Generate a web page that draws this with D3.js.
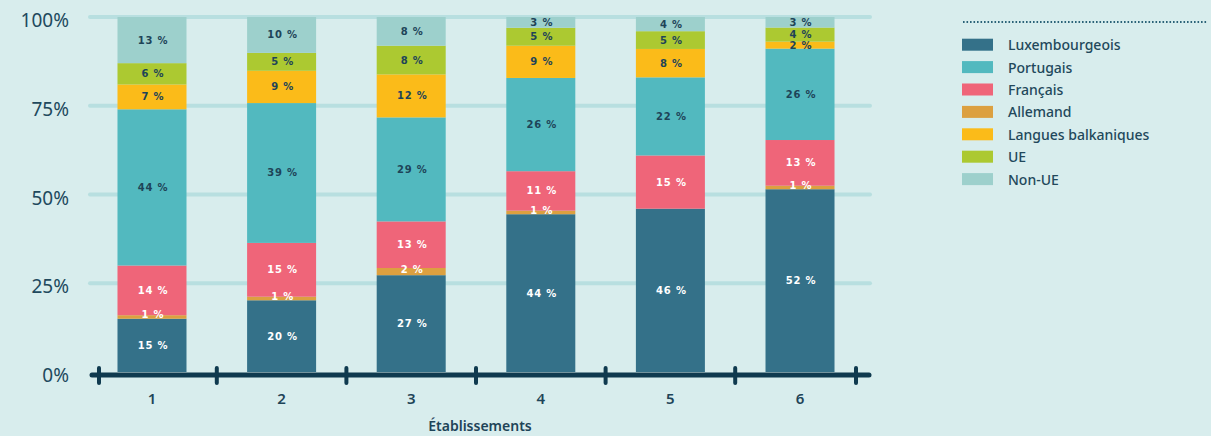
<!DOCTYPE html>
<html>
<head>
<meta charset="utf-8">
<script src="https://cdn.jsdelivr.net/npm/d3@7"></script>
<style>
  html, body { margin: 0; padding: 0; background: #d8eded; }
  svg { display: block; }
</style>
</head>
<body>
<div id="chart"></div>
<script>
// data
const etablissements = ["1", "2", "3", "4", "5", "6"];
const langues = ["Luxembourgeois", "Portugais", "Français", "Allemand", "Langues balkaniques", "UE", "Non-UE"];
// stacking order, bottom to top
const stackOrder = ["Luxembourgeois", "Allemand", "Français", "Portugais", "Langues balkaniques", "UE", "Non-UE"];
const luxembourgeois = [15, 20, 27, 44, 46, 52];
const portugais = [44, 39, 29, 26, 22, 26];
const francais = [14, 15, 13, 11, 15, 13];
const allemand = [1, 1, 2, 1, 0, 1];
const balkaniques = [7, 9, 12, 9, 8, 2];
const ue = [6, 5, 8, 5, 5, 4];
const nonUe = [13, 10, 8, 3, 4, 3];
const yTicks = [0, 25, 50, 75, 100];

const colors = {
  "Luxembourgeois": "#347189",
  "Portugais": "#52b9bf",
  "Français": "#ef6579",
  "Allemand": "#dca040",
  "Langues balkaniques": "#fbbb19",
  "UE": "#acc931",
  "Non-UE": "#9dd0cc"
};
const whiteText = ["Luxembourgeois", "Français", "Allemand"];
const dark = "#1e4458";

const rows = etablissements.map((e, i) => ({
  etab: e,
  "Luxembourgeois": luxembourgeois[i],
  "Portugais": portugais[i],
  "Français": francais[i],
  "Allemand": allemand[i],
  "Langues balkaniques": balkaniques[i],
  "UE": ue[i],
  "Non-UE": nonUe[i]
}));

const width = 1211, height = 436;
const svg = d3.select("#chart").append("svg")
  .attr("width", width)
  .attr("height", height);

svg.append("rect").attr("width", width).attr("height", height).attr("fill", "#d8eded");

const x = d3.scaleBand()
  .domain(etablissements)
  .range([86, 866])
  .paddingInner(0.4676)
  .paddingOuter(0.243);

const y = d3.scaleLinear().domain([0, 100]).range([372, 17]);

// gridlines
svg.append("g")
  .selectAll("line")
  .data(yTicks.filter(d => d > 0))
  .join("line")
  .attr("x1", 90).attr("x2", 870)
  .attr("y1", d => y(d)).attr("y2", d => y(d))
  .attr("stroke", "#b8dfe0")
  .attr("stroke-width", 4)
  .attr("stroke-linecap", "round");

// y labels
svg.append("g")
  .selectAll("text")
  .data(yTicks)
  .join("text")
  .attr("x", 69)
  .attr("y", d => y(d) + 3)
  .attr("text-anchor", "end")
  .attr("dominant-baseline", "central")
  .style("font-family", "'Noto Sans', sans-serif")
  .style("font-size", "19px")
  .style("fill", "#21495d")
  .text(d => d + "%");

// stacked bars (normalised to 100 %)
const stack = d3.stack().keys(stackOrder).offset(d3.stackOffsetExpand);
const series = stack(rows);

const groups = svg.append("g")
  .selectAll("g")
  .data(series)
  .join("g")
  .attr("fill", d => colors[d.key]);

groups.selectAll("rect")
  .data(d => d)
  .join("rect")
  .attr("x", d => x(d.data.etab))
  .attr("width", x.bandwidth())
  .attr("y", d => y(d[1] * 100))
  .attr("height", d => y(d[0] * 100) - y(d[1] * 100));

// segment labels
const labels = svg.append("g");
series.forEach(s => {
  labels.selectAll(null)
    .data(s.filter(d => d.data[s.key] > 0))
    .join("text")
    .attr("x", d => x(d.data.etab) + x.bandwidth() / 2 + 1)
    .attr("y", d => (y(d[0] * 100) + y(d[1] * 100)) / 2 - (s.key === "Allemand" ? 2 : 0))
    .attr("text-anchor", "middle")
    .attr("dominant-baseline", "central")
    .style("font-family", "'DejaVu Sans', sans-serif")
    .style("font-weight", "bold")
    .style("font-size", "10px")
    .style("letter-spacing", "0.8px")
    .style("fill", whiteText.includes(s.key) ? "#ffffff" : dark)
    .text(d => d.data[s.key] + " %");
});

// x axis line and ticks
const centers = etablissements.map(e => x(e) + x.bandwidth() / 2);
const tickXs = [centers[0] - 53]
  .concat(d3.pairs(centers).map(([a, b]) => (a + b) / 2))
  .concat([centers[centers.length - 1] + 56]);

svg.append("line")
  .attr("x1", 92).attr("x2", 869)
  .attr("y1", 375).attr("y2", 375)
  .attr("stroke", "#0f3a4f")
  .attr("stroke-width", 5)
  .attr("stroke-linecap", "round");

svg.append("g")
  .selectAll("line")
  .data(tickXs)
  .join("line")
  .attr("x1", d => d).attr("x2", d => d)
  .attr("y1", 368).attr("y2", 383)
  .attr("stroke", "#0f3a4f")
  .attr("stroke-width", 4)
  .attr("stroke-linecap", "round");

svg.append("g")
  .selectAll("text")
  .data(etablissements)
  .join("text")
  .attr("x", d => x(d) + x.bandwidth() / 2)
  .attr("y", 398)
  .attr("text-anchor", "middle")
  .attr("dominant-baseline", "central")
  .style("font-family", "'Noto Sans', sans-serif")
  .style("font-weight", "600")
  .style("font-size", "15px")
  .style("fill", dark)
  .text(d => d);

svg.append("text")
  .attr("x", 480)
  .attr("y", 425)
  .attr("text-anchor", "middle")
  .attr("dominant-baseline", "central")
  .style("font-family", "'Noto Sans', sans-serif")
  .style("font-weight", "600")
  .style("font-size", "14px")
  .style("fill", dark)
  .text("Établissements");

// legend
const legend = svg.append("g");
legend.append("line")
  .attr("x1", 963).attr("x2", 1208)
  .attr("y1", 22).attr("y2", 22)
  .attr("stroke", "#2b6378")
  .attr("stroke-width", 2)
  .attr("stroke-dasharray", "1.6 1.9");

const items = legend.selectAll("g")
  .data(langues)
  .join("g")
  .attr("transform", (d, i) => `translate(962, ${44.7 + i * 22.4})`);

items.append("rect")
  .attr("y", -6)
  .attr("width", 31)
  .attr("height", 12)
  .attr("fill", d => colors[d]);

items.append("text")
  .attr("x", 46)
  .attr("dominant-baseline", "central")
  .style("font-family", "'Noto Sans', sans-serif")
  .style("font-weight", "500")
  .style("font-size", "14px")
  .style("fill", "#22485b")
  .text(d => d);
</script>
</body>
</html>
